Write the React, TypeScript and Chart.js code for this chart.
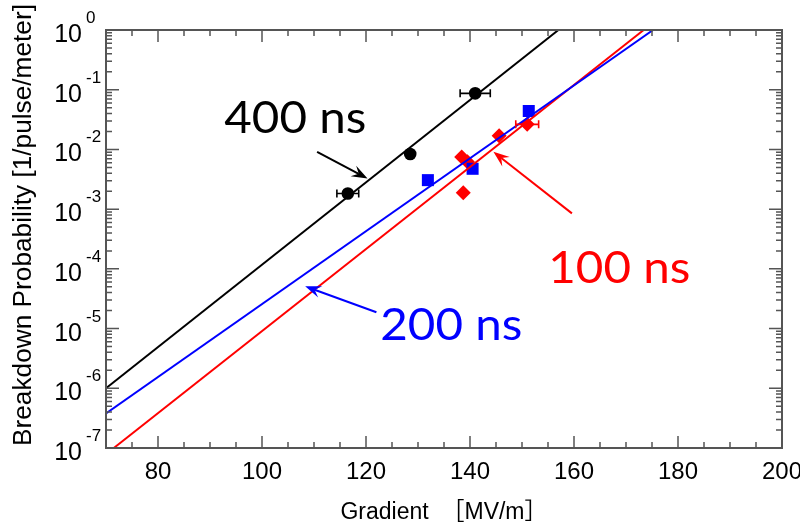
import React, { useEffect, useRef } from "react";
import { Chart, registerables } from "chart.js";

Chart.register(...registerables);

// Axis ranges
const X_MIN = 70;
const X_MAX = 200;
const Y_MIN = 1e-7;
const Y_MAX = 1;
const xTickLabels = [80, 100, 120, 140, 160, 180, 200];
const yDecades = [0, -1, -2, -3, -4, -5, -6, -7];

// 400 ns measurements (gradient MV/m, probability, gradient error)
const grad400 = [116.5, 128.5, 141.0];
const prob400 = [1.83e-3, 8.4e-3, 8.7e-2];
const err400 = [2.1, 0, 2.9];

// 200 ns measurements
const grad200 = [131.9, 140.5, 151.3];
const prob200 = [3.06e-3, 4.74e-3, 4.4e-2];

// 100 ns measurements
const grad100 = [138.4, 139.5, 138.7, 145.6, 151.0];
const prob100 = [7.5e-3, 6.2e-3, 1.88e-3, 1.69e-2, 2.63e-2];
const err100 = [0, 0, 0, 0, 2.2];

// Exponential fits (end points of each straight line on the log axis)
const fit400Grad = [70, 157.0];
const fit400Prob = [1e-6, 1];
const fit200Grad = [70, 175.2];
const fit200Prob = [3.8e-7, 1];
const fit100Grad = [71.5, 173.4];
const fit100Prob = [1e-7, 1];

// Callout labels: text, colour, anchor (gradient, probability) of the text's left baseline
const calloutText = ["400 ns", "200 ns", "100 ns"];
const calloutColor = ["#000000", "#0000ff", "#ff0000"];
const calloutGrad = [92.75, 122.75, 155.06];
const calloutProb = [1.86e-2, 6.38e-6, 5.75e-5];
// Arrows: tail and tip in data coordinates
const arrowTailGrad = [110.6, 122.0, 159.6];
const arrowTailProb = [9.1e-3, 1.88e-5, 8.5e-4];
const arrowTipGrad = [120.3, 108.3, 144.5];
const arrowTipProb = [3.27e-3, 5.1e-5, 9.1e-3];

const pts = (xs: number[], ys: number[]) => xs.map((x, i) => ({ x, y: ys[i] }));

const FRAME = "#555555";
const SANS = "'Liberation Sans', Arial, sans-serif";
const TICK_FONT = "24px " + SANS;
const YTICK_FONT = "25px " + SANS;
const EXP_FONT = "17px " + SANS;
const TITLE_FONT = "23px 'Liberation Sans', Arial, 'Noto Sans CJK JP', sans-serif";
const CALLOUT_FONT = "44px Lato, 'Open Sans', sans-serif";

function drawErrorBars(chart: any, grads: number[], probs: number[], errs: number[], color: string) {
  const { ctx, scales } = chart;
  ctx.save();
  ctx.strokeStyle = color;
  ctx.lineWidth = 1.6;
  grads.forEach((g, i) => {
    const e = errs[i];
    if (!e) return;
    const y = scales.y.getPixelForValue(probs[i]);
    const x0 = scales.x.getPixelForValue(g - e);
    const x1 = scales.x.getPixelForValue(g + e);
    ctx.beginPath();
    ctx.moveTo(x0, y);
    ctx.lineTo(x1, y);
    ctx.moveTo(x0, y - 4);
    ctx.lineTo(x0, y + 4);
    ctx.moveTo(x1, y - 4);
    ctx.lineTo(x1, y + 4);
    ctx.stroke();
  });
  ctx.restore();
}

function drawArrow(ctx: CanvasRenderingContext2D, x0: number, y0: number, x1: number, y1: number, color: string) {
  const ang = Math.atan2(y1 - y0, x1 - x0);
  const len = 16;
  const half = 6;
  const notch = 10;
  ctx.save();
  ctx.strokeStyle = color;
  ctx.fillStyle = color;
  ctx.lineWidth = 2;
  ctx.beginPath();
  ctx.moveTo(x0, y0);
  ctx.lineTo(x1 - Math.cos(ang) * notch, y1 - Math.sin(ang) * notch);
  ctx.stroke();
  const bx = x1 - Math.cos(ang) * len;
  const by = y1 - Math.sin(ang) * len;
  const nx = -Math.sin(ang);
  const ny = Math.cos(ang);
  ctx.beginPath();
  ctx.moveTo(x1, y1);
  ctx.lineTo(bx + nx * half, by + ny * half);
  ctx.lineTo(x1 - Math.cos(ang) * notch, y1 - Math.sin(ang) * notch);
  ctx.lineTo(bx - nx * half, by - ny * half);
  ctx.closePath();
  ctx.fill();
  ctx.restore();
}

// Draws text whose advance is stretched to a given width
function fillStretched(ctx: CanvasRenderingContext2D, text: string, x: number, y: number, width: number) {
  const w = ctx.measureText(text).width;
  ctx.save();
  ctx.translate(x, y);
  ctx.scale(width / w, 1);
  ctx.fillText(text, 0, 0);
  ctx.restore();
}

const decorations = {
  id: "decorations",
  afterDatasetsDraw(chart: any) {
    drawErrorBars(chart, grad400, prob400, err400, "#000000");
    drawErrorBars(chart, grad100, prob100, err100, "#ff0000");
  },
  afterDraw(chart: any) {
    const { ctx, chartArea: a, scales } = chart;
    const xs = scales.x;
    const ys = scales.y;
    ctx.save();

    // Frame
    ctx.strokeStyle = FRAME;
    ctx.lineWidth = 2;
    ctx.strokeRect(a.left, a.top, a.right - a.left, a.bottom - a.top);

    // Inward ticks on all four sides
    ctx.lineWidth = 1.5;
    ctx.beginPath();
    for (let v = X_MIN + 5; v < X_MAX; v += 5) {
      const px = xs.getPixelForValue(v);
      const len = v % 20 === 0 ? 12 : 6;
      ctx.moveTo(px, a.bottom);
      ctx.lineTo(px, a.bottom - len);
      ctx.moveTo(px, a.top);
      ctx.lineTo(px, a.top + len);
    }
    for (let d = -7; d < 0; d++) {
      for (let m = 1; m <= 9; m++) {
        const v = m * Math.pow(10, d);
        const py = ys.getPixelForValue(v);
        const len = m === 1 ? 13 : 6;
        ctx.moveTo(a.left, py);
        ctx.lineTo(a.left + len, py);
        ctx.moveTo(a.right, py);
        ctx.lineTo(a.right - len, py);
      }
    }
    ctx.stroke();

    // X tick labels
    ctx.fillStyle = "#000";
    ctx.font = TICK_FONT;
    ctx.textAlign = "center";
    ctx.textBaseline = "alphabetic";
    xTickLabels.forEach((v) => {
      ctx.fillText(String(v), xs.getPixelForValue(v), a.bottom + 31);
    });

    // Y tick labels: 10 with a raised exponent
    yDecades.forEach((d) => {
      const py = ys.getPixelForValue(Math.pow(10, d));
      ctx.font = YTICK_FONT;
      ctx.textAlign = "right";
      ctx.fillText("10", a.left - 24, py + 12);
      ctx.font = EXP_FONT;
      ctx.textAlign = "left";
      ctx.fillText(d === 0 ? "0" : "-" + Math.abs(d), a.left - 20, py - 7);
    });

    // Axis titles
    ctx.font = TITLE_FONT;
    ctx.textAlign = "center";
    ctx.fillText("Gradient  ［MV/m］", (a.left + a.right) / 2, a.bottom + 71);
    ctx.save();
    ctx.translate(31, 225);
    ctx.rotate(-Math.PI / 2);
    ctx.font = "25px " + SANS;
    ctx.textAlign = "left";
    const yTitle = "Breakdown Probability [1/pulse/meter]";
    fillStretched(ctx, yTitle, -221, 0, 442);
    ctx.restore();

    // Callouts
    calloutText.forEach((t, i) => {
      ctx.font = CALLOUT_FONT;
      ctx.textAlign = "left";
      ctx.fillStyle = calloutColor[i];
      const w = ctx.measureText(t).width;
      fillStretched(ctx, t, xs.getPixelForValue(calloutGrad[i]), ys.getPixelForValue(calloutProb[i]), w * 1.08);
      drawArrow(
        ctx,
        xs.getPixelForValue(arrowTailGrad[i]),
        ys.getPixelForValue(arrowTailProb[i]),
        xs.getPixelForValue(arrowTipGrad[i]),
        ys.getPixelForValue(arrowTipProb[i]),
        calloutColor[i]
      );
    });

    ctx.restore();
  },
};

export default function App() {
  const ref = useRef<HTMLCanvasElement | null>(null);

  useEffect(() => {
    document.body.style.margin = "0";
    const canvas = ref.current;
    if (!canvas) return;
    const line = (g: number[], p: number[], color: string) => ({
      type: "line" as const,
      data: pts(g, p),
      borderColor: color,
      borderWidth: 2,
      pointRadius: 0,
      showLine: true,
      fill: false,
      tension: 0,
    });
    const chart = new Chart(canvas, {
      type: "scatter",
      data: {
        datasets: [
          line(fit400Grad, fit400Prob, "#000000"),
          line(fit200Grad, fit200Prob, "#0000ff"),
          line(fit100Grad, fit100Prob, "#ff0000"),
          {
            label: "400 ns",
            data: pts(grad400, prob400),
            pointStyle: "circle",
            pointRadius: 6.3,
            backgroundColor: "#000000",
            borderColor: "#000000",
            borderWidth: 0,
          },
          {
            label: "200 ns",
            data: pts(grad200, prob200),
            pointStyle: "rect",
            pointRadius: 8.5,
            backgroundColor: "#0000ff",
            borderColor: "#0000ff",
            borderWidth: 0,
          },
          {
            label: "100 ns",
            data: pts(grad100, prob100),
            pointStyle: "rectRot",
            pointRadius: 7.5,
            backgroundColor: "#ff0000",
            borderColor: "#ff0000",
            borderWidth: 0,
          },
        ],
      },
      options: {
        responsive: false,
        animation: false,
        events: [],
        layout: { padding: { left: 106, top: 30, right: 18, bottom: 78 } },
        plugins: { legend: { display: false }, tooltip: { enabled: false } },
        scales: {
          x: { type: "linear", min: X_MIN, max: X_MAX, display: false },
          y: { type: "logarithmic", min: Y_MIN, max: Y_MAX, display: false },
        },
      },
      plugins: [decorations],
    });
    return () => chart.destroy();
  }, []);

  return (
    <div style={{ position: "absolute", left: 0, top: 0, width: 800, height: 526, background: "#fff" }}>
      <canvas ref={ref} width={800} height={526} />
    </div>
  );
}
